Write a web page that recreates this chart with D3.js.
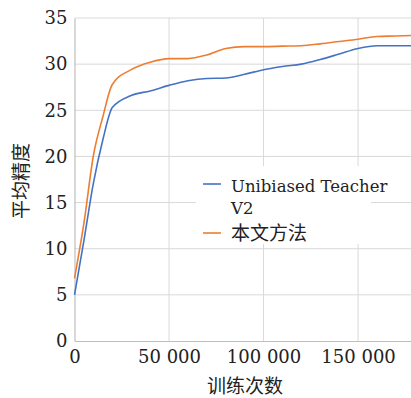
<!DOCTYPE html>
<html><head><meta charset="utf-8">
<script src="https://cdn.jsdelivr.net/npm/d3@7"></script>
<style>body{margin:0;background:#fff}svg{display:block}
.serif{font-family:"DejaVu Serif",serif;}
.cjk{font-family:"Noto Sans CJK SC",sans-serif;}
</style>
</head><body>
<svg id="c" width="411" height="398"></svg>
<script>
const iterations = [0,5000,10000,15000,20000,30000,40000,50000,60000,70000,80000,90000,100000,110000,120000,130000,140000,150000,160000,170000,178000];
const ubtV2 =      [5.0,10.9,17.1,21.8,25.3,26.6,27.1,27.7,28.2,28.45,28.5,28.9,29.4,29.75,30.0,30.5,31.1,31.7,32.0,32.0,32.0];
const ours =       [6.8,12.8,20.1,24.3,27.8,29.4,30.2,30.6,30.6,31.0,31.7,31.9,31.9,31.95,32.0,32.2,32.45,32.7,33.0,33.05,33.1];
const xTicks = [0,50000,100000,150000];
const yTicks = [0,5,10,15,20,25,30,35];
const seriesNames = ["Unibiased Teacher V2","本文方法"];
const colors = ["#4472C4","#ED7D31"];

const svg = d3.select("#c");
const m = {l:74.5, r:411, t:18, b:341};
const x = d3.scaleLinear().domain([0,178000]).range([m.l,m.r]);
const y = d3.scaleLinear().domain([0,35]).range([m.b,m.t]);

svg.append("g").selectAll("line").data(yTicks.filter(d=>d>0)).join("line")
  .attr("x1",m.l).attr("x2",m.r).attr("y1",d=>y(d)).attr("y2",d=>y(d))
  .attr("stroke","#d9d9d9").attr("stroke-width",1);
svg.append("g").selectAll("line").data(xTicks.filter(d=>d>0)).join("line")
  .attr("x1",d=>x(d)).attr("x2",d=>x(d)).attr("y1",m.t).attr("y2",m.b)
  .attr("stroke","#d9d9d9").attr("stroke-width",1);

const xa = svg.append("g").attr("transform",`translate(0,${m.b})`)
  .call(d3.axisBottom(x).tickValues(xTicks).tickSize(0).tickPadding(9)
    .tickFormat(d=>d3.format(",")(d).replace(/,/g," ")));
const ya = svg.append("g").attr("transform",`translate(${m.l},0)`)
  .call(d3.axisLeft(y).tickValues(yTicks).tickSize(0).tickPadding(7));
[xa,ya].forEach(a=>{
  a.attr("font-family",null).attr("font-size",null);
  a.select(".domain").attr("stroke","#bfbfbf").attr("stroke-width",1.2);
  a.selectAll("text").attr("class","serif").style("font-size","18px").attr("fill","#222");
});

const line = d3.line().curve(d3.curveMonotoneX);
[ubtV2, ours].forEach((s,i)=>{
  svg.append("path").attr("d", line(iterations.map((v,j)=>[x(v), y(s[j])])))
    .attr("fill","none").attr("stroke",colors[i]).attr("stroke-width",1.6);
});

const lg = svg.append("g");
lg.append("rect").attr("x",196).attr("y",166).attr("width",175).attr("height",78).attr("fill","#fff");
lg.append("line").attr("x1",203).attr("x2",221).attr("y1",184).attr("y2",184).attr("stroke",colors[0]).attr("stroke-width",1.6);
lg.append("text").attr("class","serif").attr("x",231).attr("y",192).style("font-size","16.5px").attr("fill","#222").text("Unibiased Teacher");
lg.append("text").attr("class","serif").attr("x",231).attr("y",214).style("font-size","16.5px").attr("fill","#222").text("V2");
lg.append("line").attr("x1",203).attr("x2",221).attr("y1",233).attr("y2",233).attr("stroke",colors[1]).attr("stroke-width",1.6);
lg.append("text").attr("class","cjk").attr("x",231).attr("y",240).style("font-size","19px").attr("fill","#222").text(seriesNames[1]);

svg.append("text").attr("class","cjk").attr("x",245).attr("y",393).attr("text-anchor","middle")
  .style("font-size","19px").attr("fill","#222").text("训练次数");
svg.append("text").attr("class","cjk").attr("transform","translate(28,181) rotate(-90)").attr("text-anchor","middle")
  .style("font-size","19px").attr("fill","#222").text("平均精度");
</script>
</body></html>
